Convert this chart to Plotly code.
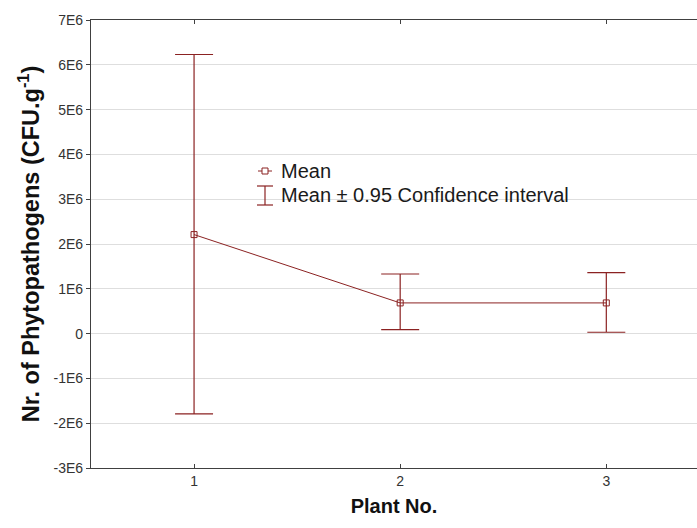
import plotly.graph_objects as go

plants = [1, 2, 3]
mean_vals = [2.21e6, 0.685e6, 0.685e6]
ci_upper = [6.23e6, 1.33e6, 1.36e6]
ci_lower = [-1.79e6, 0.09e6, 0.03e6]

y_tick_vals = [7e6, 6e6, 5e6, 4e6, 3e6, 2e6, 1e6, 0, -1e6, -2e6, -3e6]
y_tick_text = ["7E6", "6E6", "5E6", "4E6", "3E6", "2E6", "1E6", "0", "-1E6", "-2E6", "-3E6"]
x_tick_vals = [1, 2, 3]
x_tick_text = ["1", "2", "3"]

legend_labels = ["Mean", "Mean \u00b1 0.95 Confidence interval"]

RED = "#8b2222"
W, H = 697, 528
ML, MR, MT, MB = 91, 0, 20, 60

err_plus = [u - m for u, m in zip(ci_upper, mean_vals)]
err_minus = [m - l for m, l in zip(mean_vals, ci_lower)]

fig = go.Figure()
fig.add_trace(go.Scatter(
    x=plants, y=mean_vals, mode="lines+markers",
    line=dict(color=RED, width=1),
    marker=dict(symbol="square-open", size=6, color=RED, line=dict(width=1, color=RED)),
    error_y=dict(type="data", symmetric=False, array=err_plus, arrayminus=err_minus,
                 color=RED, thickness=1.2, width=19),
    showlegend=False,
))

# manual legend (paper coordinates from pixel positions)
pw, ph = W - ML - MR, H - MT - MB
def px(x):
    return (x - ML) / pw
def py(y):
    return (H - MB - y) / ph

shapes = []
shapes.append(dict(type="line", xref="paper", yref="paper", x0=px(258), x1=px(272), y0=py(171), y1=py(171),
                   line=dict(color=RED, width=1)))
shapes.append(dict(type="rect", xref="paper", yref="paper", x0=px(262), x1=px(268), y0=py(168), y1=py(174),
                   line=dict(color=RED, width=1), fillcolor="white"))
shapes.append(dict(type="line", xref="paper", yref="paper", x0=px(265), x1=px(265), y0=py(186), y1=py(205),
                   line=dict(color=RED, width=1.2)))
shapes.append(dict(type="line", xref="paper", yref="paper", x0=px(257), x1=px(273), y0=py(186), y1=py(186),
                   line=dict(color=RED, width=1.2)))
shapes.append(dict(type="line", xref="paper", yref="paper", x0=px(257), x1=px(273), y0=py(205), y1=py(205),
                   line=dict(color=RED, width=1.2)))

annotations = []
for lbl, yy in zip(legend_labels, [171, 195]):
    annotations.append(dict(text=lbl, xref="paper", yref="paper", x=px(279), y=py(yy),
                            xanchor="left", yanchor="middle", showarrow=False,
                            font=dict(family="Liberation Sans, Arial", size=20, color="#1a1a1a")))

fig.update_layout(
    width=W, height=H,
    margin=dict(l=ML, r=MR, t=MT, b=MB),
    paper_bgcolor="white", plot_bgcolor="white",
    font=dict(family="Liberation Sans, Arial", color="#333333"),
    shapes=shapes, annotations=annotations,
    xaxis=dict(range=[0.5, 3.44], tickvals=x_tick_vals, ticktext=x_tick_text,
               showgrid=False, zeroline=False, showline=True, linecolor="#404040", linewidth=1.2,
               mirror="ticks", ticks="inside", ticklen=4, tickcolor="#404040",
               tickfont=dict(size=14, color="#333333"),
               title=dict(text="<b>Plant No.</b>", font=dict(size=20, color="#111111"), standoff=11)),
    yaxis=dict(range=[-3e6, 7e6], tickvals=y_tick_vals, ticktext=y_tick_text,
               showgrid=True, gridcolor="#dedede", gridwidth=1, zeroline=False,
               showline=True, linecolor="#404040", linewidth=1.2,
               ticks="outside", ticklen=4, tickcolor="#404040",
               tickfont=dict(size=14, color="#333333"),
               title=dict(text="<b>Nr. of Phytopathogens (CFU.g<sup>-1</sup>)</b>",
                          font=dict(size=23.5, color="#111111"), standoff=7)),
)

fig.write_html("out.html")
